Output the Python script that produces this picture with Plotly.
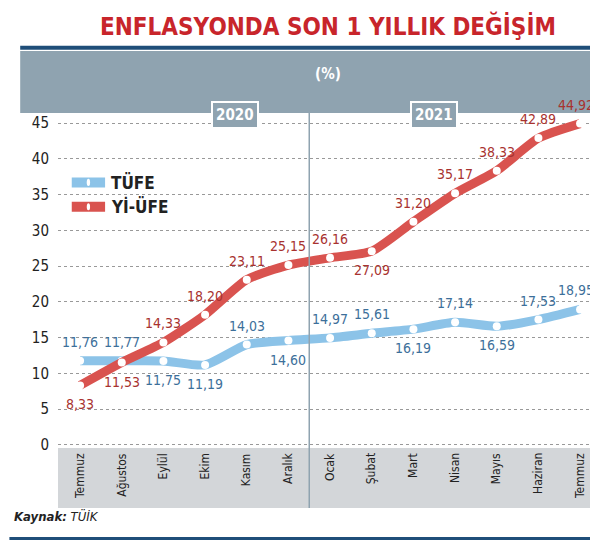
import plotly.graph_objects as go

months = ["Temmuz", "Ağustos", "Eylül", "Ekim", "Kasım", "Aralık", "Ocak",
          "Şubat", "Mart", "Nisan", "Mayıs", "Haziran", "Temmuz"]
tufe = [11.76, 11.77, 11.75, 11.19, 14.03, 14.60, 14.97, 15.61, 16.19, 17.14, 16.59, 17.53, 18.95]
yiufe = [8.33, 11.53, 14.33, 18.20, 23.11, 25.15, 26.16, 27.09, 31.20, 35.17, 38.33, 42.89, 44.92]
tufe_pos = ["above", "above", "below", "below", "above", "below", "above",
            "above", "below", "above", "below", "above", "above"]
yiufe_pos = ["below", "below", "above", "above", "above", "above", "above",
             "below", "above", "above", "above", "above", "above"]

RED = "#d9534f"
BLUE = "#8cc3e8"
LABEL_RED = "#a8322f"
LABEL_BLUE = "#3d6f9a"
GRAY = "#8fa3b0"
FONT = "DejaVu Sans Condensed, Liberation Sans Narrow, Roboto"
x = list(range(len(months)))

fig = go.Figure()
for vals, color in [(tufe, BLUE), (yiufe, RED)]:
    fig.add_trace(go.Scatter(
        x=x, y=vals, mode="lines+markers", line=dict(color=color, width=9, shape="spline", smoothing=0.6),
        marker=dict(color="white", size=8, line=dict(color=color, width=0)), hoverinfo="skip"))

ann = []
for vals, pos, col in [(tufe, tufe_pos, LABEL_BLUE), (yiufe, yiufe_pos, LABEL_RED)]:
    for i, (v, p) in enumerate(zip(vals, pos)):
        xs = -4 if i == len(vals) - 1 else 0
        ann.append(dict(x=i, y=v, text=f"{v:.2f}".replace(".", ","), showarrow=False,
                        yshift=19 if p == "above" else -19, xshift=xs,
                        font=dict(family=FONT, size=14, color=col)))
for i, m in enumerate(months):
    ann.append(dict(x=i, y=0, yref="y", text=m, textangle=-90, showarrow=False, yanchor="top",
                    yshift=-6, font=dict(family=FONT, size=12, color="#222")))
ann += [
    dict(x=0.5, y=1.31, xref="paper", yref="paper", text="<b>ENFLASYONDA SON 1 YILLIK DEĞİŞİM</b>",
         showarrow=False, font=dict(family=FONT, size=24, color="#c8252b")),
    dict(x=0.5, y=1.15, xref="paper", yref="paper", text="<b>(%)</b>", showarrow=False,
         font=dict(family=FONT, size=15, color="white")),
    dict(x=0.283, y=1.035, xref="paper", yref="paper", text="<b>2020</b>", showarrow=False,
         bgcolor=GRAY, bordercolor="white", borderwidth=2, borderpad=3,
         font=dict(family=FONT, size=15, color="white")),
    dict(x=0.74, y=1.035, xref="paper", yref="paper", text="<b>2021</b>", showarrow=False,
         bgcolor=GRAY, bordercolor="white", borderwidth=2, borderpad=3,
         font=dict(family=FONT, size=15, color="white")),
    dict(x=-0.085, y=-0.233, xref="paper", yref="paper", xanchor="left", text="<b><i>Kaynak:</i></b> <i>TÜİK</i>",
         showarrow=False, font=dict(family=FONT, size=13, color="#222")),
    dict(x=0.7, y=36.7, text="<b>TÜFE</b>", xanchor="left", showarrow=False,
         font=dict(family=FONT, size=17, color="#222")),
    dict(x=0.7, y=33.3, text="<b>Yİ-ÜFE</b>", xanchor="left", showarrow=False,
         font=dict(family=FONT, size=17, color="#222")),
]

shapes = [
    dict(type="rect", xref="paper", yref="paper", x0=-0.07, x1=1.0, y0=1.0, y1=1.185, fillcolor=GRAY, line_width=0, layer="below"),
    dict(type="line", xref="paper", yref="paper", x0=-0.07, x1=1.0, y0=1.195, y1=1.195, line=dict(color="#1f4e79", width=4)),
    dict(type="rect", xref="paper", yref="paper", x0=0, x1=1.0, y0=-0.179, y1=0, fillcolor="#d3d6d9", line_width=0, layer="below"),
    dict(type="line", xref="paper", yref="paper", x0=-0.09, x1=1.0, y0=-0.27, y1=-0.27, line=dict(color="#1f4e79", width=3)),
    dict(type="line", x0=5.5, x1=5.5, yref="paper", y0=-0.179, y1=1, line=dict(color="#8fa3b0", width=1.5)),
    dict(type="line", x0=-0.2, x1=0.6, y0=36.7, y1=36.7, line=dict(color=BLUE, width=10)),
    dict(type="line", x0=-0.2, x1=0.6, y0=33.3, y1=33.3, line=dict(color=RED, width=10)),
    dict(type="circle", x0=0.16, x1=0.24, y0=36.2, y1=37.2, fillcolor="white", line_width=0),
    dict(type="circle", x0=0.16, x1=0.24, y0=32.8, y1=33.8, fillcolor="white", line_width=0),
]

fig.update_layout(
    width=598, height=546, margin=dict(l=50, r=8, t=105, b=106),
    plot_bgcolor="white", paper_bgcolor="white", showlegend=False,
    annotations=ann, shapes=shapes,
    xaxis=dict(range=[-0.53, 12.43], showticklabels=False, showgrid=False, zeroline=False),
    yaxis=dict(range=[-0.42, 46.4], tickvals=list(range(0, 50, 5)), showgrid=True,
               gridcolor="#999", griddash="dot", zeroline=False, ticklabelstandoff=8,
               tickfont=dict(family=FONT, size=15, color="#222")),
)
fig.write_html("out.html")
